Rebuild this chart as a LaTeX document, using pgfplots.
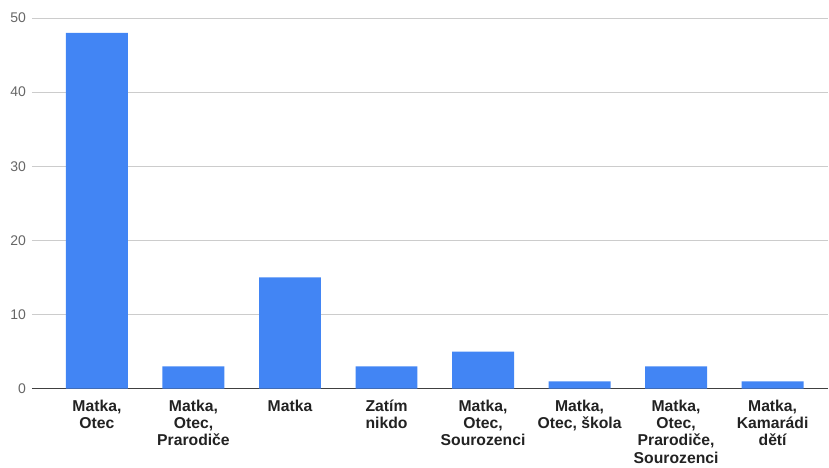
\documentclass[border=0pt]{standalone}
\usepackage{pgfplots}
\pgfplotsset{compat=1.18}
\usepackage{fontspec}
\setmainfont{Liberation Sans}

\definecolor{barblue}{HTML}{4285F4}
\definecolor{gridgray}{HTML}{CCCCCC}
\definecolor{ticktext}{HTML}{666666}
\definecolor{labeltext}{HTML}{222222}

\begin{document}
\begin{tikzpicture}
    \begin{axis}[name=ax, scale only axis, width=597.75pt, height=278.25pt,
        ymin=0, ymax=50, ytick={0,10,...,50},
        xmin=-0.673, xmax=7.578, xtick=data,
        xticklabels={{Matka,\\Otec}, {Matka,\\Otec,\\Prarodiče}, {Matka}, {Zatím\\nikdo},
            {Matka,\\Otec,\\Sourozenci}, {Matka,\\Otec, škola}, {Matka,\\Otec,\\Prarodiče,\\Sourozenci},
            {Matka,\\Kamarádi\\dětí}},
        xticklabel style={align=center, font=\fontsize{11.8}{12.9}\selectfont\bfseries, text=labeltext, anchor=north, yshift=-5pt},
        yticklabel style={font=\fontsize{10.5}{11}\selectfont, text=ticktext, xshift=-1pt},
        /pgf/number format/assume math mode=true,
        axis x line*=bottom, axis y line*=left,
        y axis line style={draw=none},
        x axis line style={draw=black!75, line width=0.9pt, -},
        ymajorgrids, grid style={gridgray, line width=0.6pt},
        major tick length=0pt,
        ytick style={draw=none}, xtick style={draw=none},
        ybar, bar width=46.5pt,
        clip=false]
        \addplot[fill=barblue, draw=none] coordinates {(0,48)(1,3)(2,15)(3,3)(4,5)(5,1)(6,3)(7,1)};
    \end{axis}
    \path[use as bounding box] ([xshift=-24pt, yshift=-57pt]ax.south west) rectangle ([yshift=13.5pt]ax.north east);
\end{tikzpicture}
\end{document}
